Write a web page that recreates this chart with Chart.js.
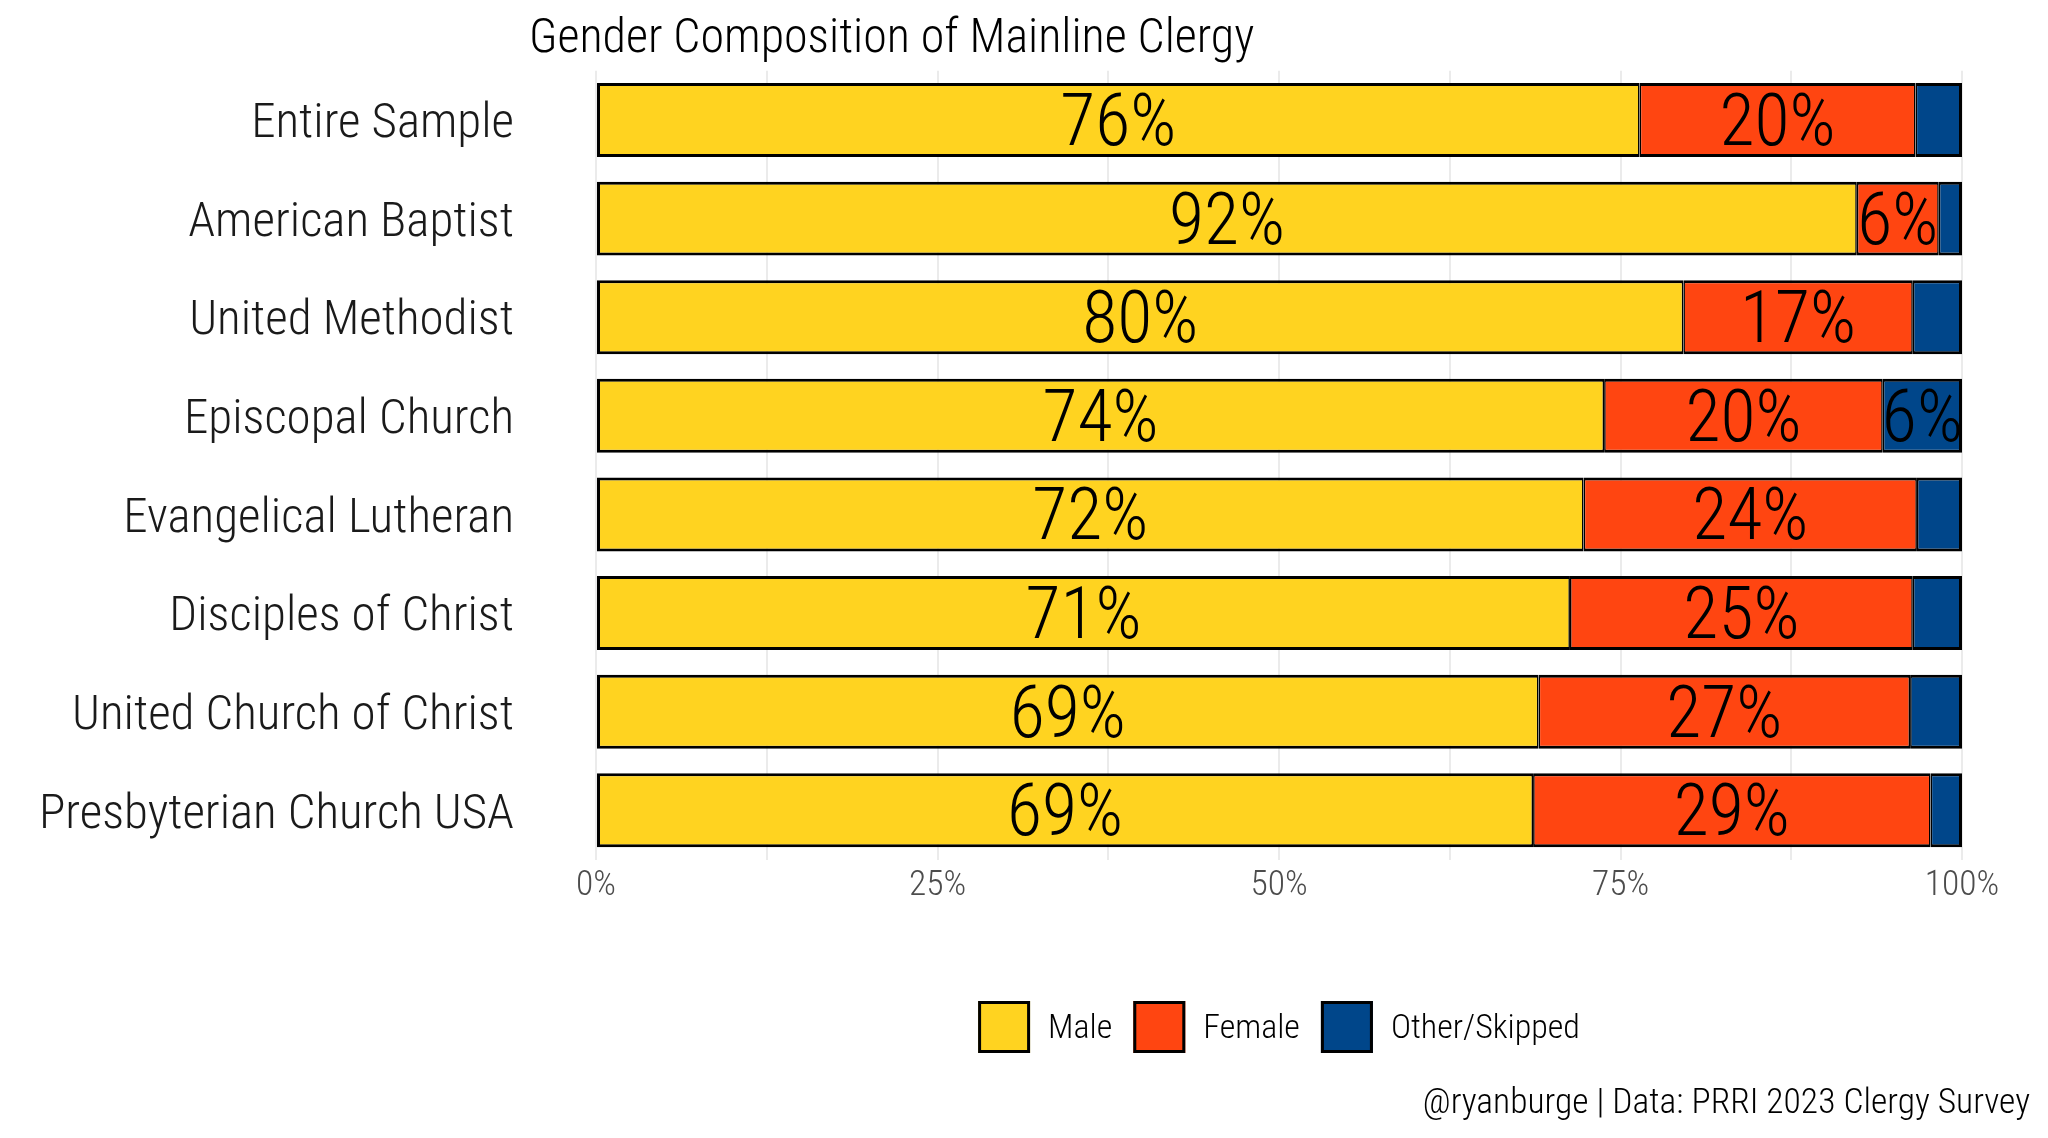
<!DOCTYPE html>
<html>
<head>
<meta charset="utf-8">
<script src="https://cdn.jsdelivr.net/npm/chart.js@4"></script>
<style>
html,body{margin:0;padding:0;background:#fff;}
#wrap{width:2048px;height:1138px;}
</style>
</head>
<body>
<div id="wrap"><canvas id="c" width="2048" height="1138" style="width:2048px;height:1138px"></canvas></div>
<script>
const categories = ["Entire Sample","American Baptist","United Methodist","Episcopal Church","Evangelical Lutheran","Disciples of Christ","United Church of Christ","Presbyterian Church USA"];
const male   = [76.4, 92.3, 79.6, 73.8, 72.3, 71.3, 69.0, 68.6];
const female = [20.2,  6.0, 16.8, 20.4, 24.4, 25.1, 27.2, 29.1];
const other  = [ 3.4,  1.7,  3.6,  5.8,  3.3,  3.6,  3.8,  2.3];
const seriesNames = ["Male","Female","Other/Skipped"];
const xTickLabels = ["0%","25%","50%","75%","100%"];
const titleText = "Gender Composition of Mainline Clergy";
const captionText = "@ryanburge | Data: PRRI 2023 Clergy Survey";

const FONT = "'Roboto Condensed', sans-serif";
const WEIGHT = "350";
const colors = ["#FFD320", "#FF4511", "#00468A"];

const W = 2048, H = 1138;
const AREA_LEFT = 596, AREA_RIGHT = 1962, AREA_TOP = 70.7, AREA_BOTTOM = 859.6;

function ds(label, data, color, idx, n){
  return {label, data, backgroundColor: color, borderColor:'#000',
    borderWidth: {top:3, bottom:3, left: idx === 0 ? 3 : 1.6, right: idx === n - 1 ? 3 : 1.6},
    borderSkipped:false, barPercentage:0.75, categoryPercentage:1.0, inflateAmount:0};
}

const overlay = {
  id:'overlay',
  afterDatasetsDraw(chart){
    const ctx = chart.ctx;
    ctx.save();
    ctx.fillStyle = '#000';
    ctx.font = WEIGHT + " 72px " + FONT;
    ctx.textAlign = 'center';
    ctx.textBaseline = 'middle';
    chart.data.datasets.forEach((d, i) => {
      const meta = chart.getDatasetMeta(i);
      meta.data.forEach((bar, j) => {
        const v = d.data[j];
        if (v >= 5) {
          ctx.fillText(Math.round(v) + '%', (bar.x + bar.base) / 2, bar.y + 7);
        }
      });
    });
    ctx.restore();
  },
  afterDraw(chart){
    const ctx = chart.ctx;
    ctx.save();
    ctx.fillStyle = '#000';
    ctx.font = WEIGHT + " 48px " + FONT;
    ctx.textAlign = 'left';
    ctx.textBaseline = 'middle';
    ctx.fillText(titleText, 529, 40);
    ctx.font = WEIGHT + " 35.5px " + FONT;
    ctx.textAlign = 'right';
    ctx.fillText(captionText, 2030, 1104);
    ctx.font = WEIGHT + " 34px " + FONT;
    ctx.textAlign = 'left';
    const box = 52, gapText = 18, gapItem = 21;
    const items = chart.data.datasets.map(d => ({label:d.label, color:d.backgroundColor, w:ctx.measureText(d.label).width}));
    let total = 0;
    items.forEach((it, k) => { total += box + gapText + it.w + (k < items.length - 1 ? gapItem : 0); });
    const cx = (chart.chartArea.left + chart.chartArea.right) / 2;
    let x = cx - total / 2;
    const cy = 1027;
    items.forEach(it => {
      ctx.fillStyle = it.color;
      ctx.fillRect(x, cy - box/2, box, box);
      ctx.strokeStyle = '#000';
      ctx.lineWidth = 3;
      ctx.strokeRect(x + 1.5, cy - box/2 + 1.5, box - 3, box - 3);
      ctx.fillStyle = '#000';
      ctx.fillText(it.label, x + box + gapText, cy + 2);
      x += box + gapText + it.w + gapItem;
    });
    ctx.restore();
  }
};

const seriesData = [male, female, other];
new Chart(document.getElementById('c'), {
  type: 'bar',
  data: {
    labels: categories,
    datasets: seriesData.map((d, i) => ds(seriesNames[i], d, colors[i], i, seriesData.length))
  },
  options: {
    indexAxis: 'y',
    responsive: false,
    animation: false,
    devicePixelRatio: 1,
    layout: { padding: { top: AREA_TOP, right: W - AREA_RIGHT, left: 0, bottom: 0 } },
    plugins: { legend: { display: false }, title: { display: false }, tooltip: { enabled: false } },
    scales: {
      x: {
        stacked: true, min: 0, max: 100,
        border: { display: false },
        grid: { color: '#ebebeb', lineWidth: 2, drawTicks: false },
        ticks: {
          stepSize: 12.5, autoSkip: false, maxRotation: 0, padding: 5,
          color: '#4d4d4d', font: { size: 35.5, family: FONT, weight: "300" },
          callback: v => (v % 25 === 0 ? xTickLabels[v / 25] : '')
        },
        afterFit(s){ s.height = H - AREA_BOTTOM; s.paddingLeft = 0; s.paddingRight = 0; }
      },
      y: {
        stacked: true,
        border: { display: false },
        grid: { display: false, drawTicks: false },
        ticks: { color: '#1a1a1a', padding: 82, labelOffset: 5, font: { size: 49, family: FONT, weight: WEIGHT } },
        afterFit(s){ s.width = AREA_LEFT; s.paddingTop = 0; s.paddingBottom = 0; }
      }
    }
  },
  plugins: [overlay]
});
</script>
</body>
</html>
